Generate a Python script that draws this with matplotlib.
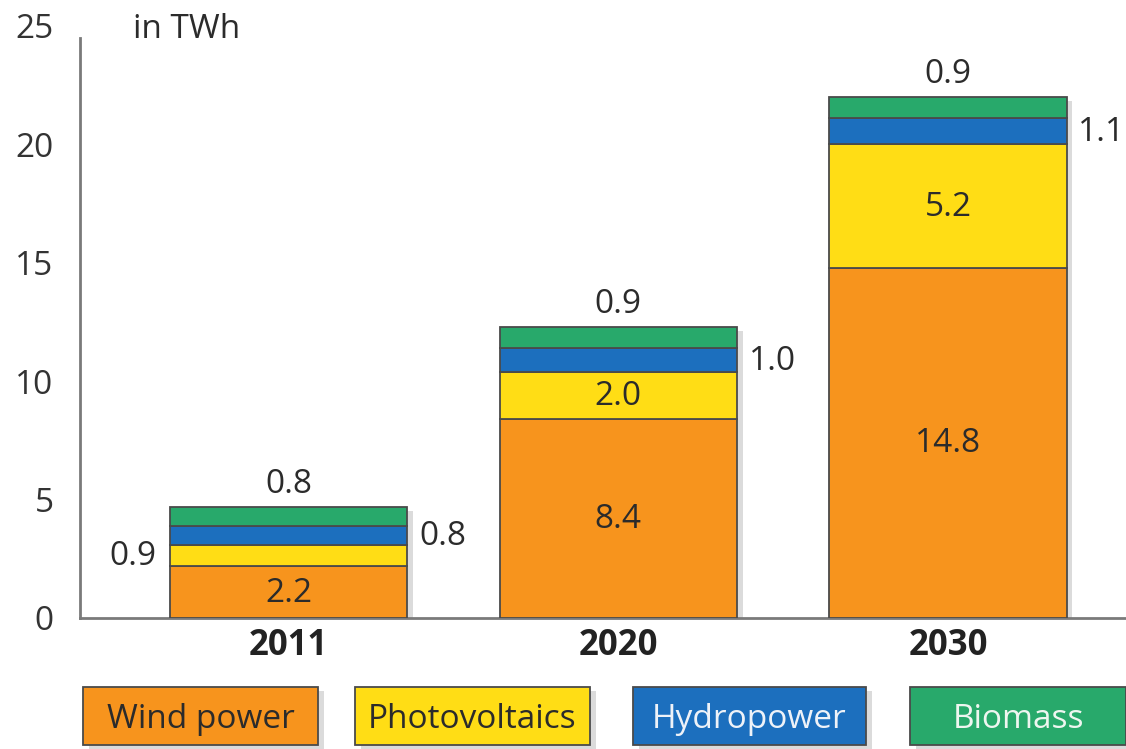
import matplotlib.pyplot as plt
import matplotlib.patheffects as pe
from matplotlib.patches import Rectangle
import numpy as np

plt.rcParams['font.family'] = ['Open Sans', 'DejaVu Sans']

# data
years = ['2011', '2020', '2030']
sources = ['Wind power', 'Photovoltaics', 'Hydropower', 'Biomass']
wind = [2.2, 8.4, 14.8]
pv = [0.9, 2.0, 5.2]
hydro = [0.8, 1.0, 1.1]
biomass = [0.8, 0.9, 0.9]
colors = ['#F7941D', '#FFDD15', '#1C6FBE', '#28A96B']
text_colors = ['#2b2b2b', '#2b2b2b', '#eef2f8', '#eef6f0']

series = [wind, pv, hydro, biomass]
totals = np.sum(series, axis=0)

fig = plt.figure(figsize=(11.26, 7.49), dpi=100)
ax = fig.add_axes([80 / 1126, 131 / 749, 1046 / 1126, 592 / 749])

x = np.arange(len(years))
width = 0.72
shadow_only = [pe.SimplePatchShadow(offset=(4, -3), shadow_rgbFace='#9a9a9a', alpha=0.35)]

# soft shadow behind the whole stack
ax.bar(x, totals, width, color='none', zorder=2, path_effects=shadow_only)

bottom = np.zeros(len(years))
for vals, c in zip(series, colors):
    ax.bar(x, vals, width, bottom=bottom, color=c, edgecolor='#4a4a4a',
           linewidth=1.3, zorder=3)
    bottom += np.array(vals)

# value labels
fs = 24
tc = '#2b2b2b'
for i in range(len(years)):
    b1 = wind[i]
    b2 = b1 + pv[i]
    b3 = b2 + hydro[i]
    b4 = b3 + biomass[i]
    ax.text(x[i], b1 / 2 - 0.05, f'{wind[i]:.1f}', ha='center', va='center', fontsize=fs, color=tc, zorder=5)
    if pv[i] >= 1.5:
        ax.text(x[i], (b1 + b2) / 2 - 0.05, f'{pv[i]:.1f}', ha='center', va='center', fontsize=fs, color=tc, zorder=5)
    else:
        ax.text(x[i] - width / 2 - 0.04, (b1 + b2) / 2 - 0.05, f'{pv[i]:.1f}', ha='right', va='center', fontsize=fs, color=tc, zorder=5)
    ax.text(x[i] + width / 2 + 0.035, (b2 + b3) / 2 - 0.05, f'{hydro[i]:.1f}', ha='left', va='center', fontsize=fs, color=tc, zorder=5)
    ax.text(x[i], b4 + 0.95, f'{biomass[i]:.1f}', ha='center', va='center', fontsize=fs, color=tc, zorder=5)

ax.set_xlim(-0.633, 2.54)
ax.set_ylim(0, 25)
ax.set_yticks([0, 5, 10, 15, 20, 25])
ax.set_xticks(x)
ax.set_xticklabels(years, fontsize=25, fontweight='bold', color='#222222')
ax.tick_params(axis='y', length=0, pad=19, labelsize=24, labelcolor='#333333')
ax.tick_params(axis='x', length=0, pad=7)
for s in ['top', 'right']:
    ax.spines[s].set_visible(False)
ax.spines['left'].set_color('#7a7a7a')
ax.spines['left'].set_linewidth(2)
ax.spines['left'].set_bounds(0, 24.5)
ax.spines['bottom'].set_color('#7a7a7a')
ax.spines['bottom'].set_linewidth(2)

fig.text(133 / 1126, 1 - 29 / 749, 'in TWh', ha='left', va='center', fontsize=24, color='#2b2b2b')

# legend boxes along the bottom
box_left = [83, 355, 633, 910]
box_right = [318, 590, 866, 1126]
shadow = [pe.SimplePatchShadow(offset=(4, -3), shadow_rgbFace='#9a9a9a', alpha=0.35), pe.Normal()]
for name, c, t, l, r in zip(sources, colors, text_colors, box_left, box_right):
    rect = Rectangle((l / 1126, 1 - 745 / 749), (r - l) / 1126, 58 / 749,
                     transform=fig.transFigure, facecolor=c, edgecolor='#4a4a4a',
                     linewidth=1.3, path_effects=shadow)
    fig.patches.append(rect)
    fig.text((l + r) / 2 / 1126, 1 - 719 / 749, name, ha='center', va='center',
             fontsize=24, color=t)

fig.savefig('out.png', dpi=100)
